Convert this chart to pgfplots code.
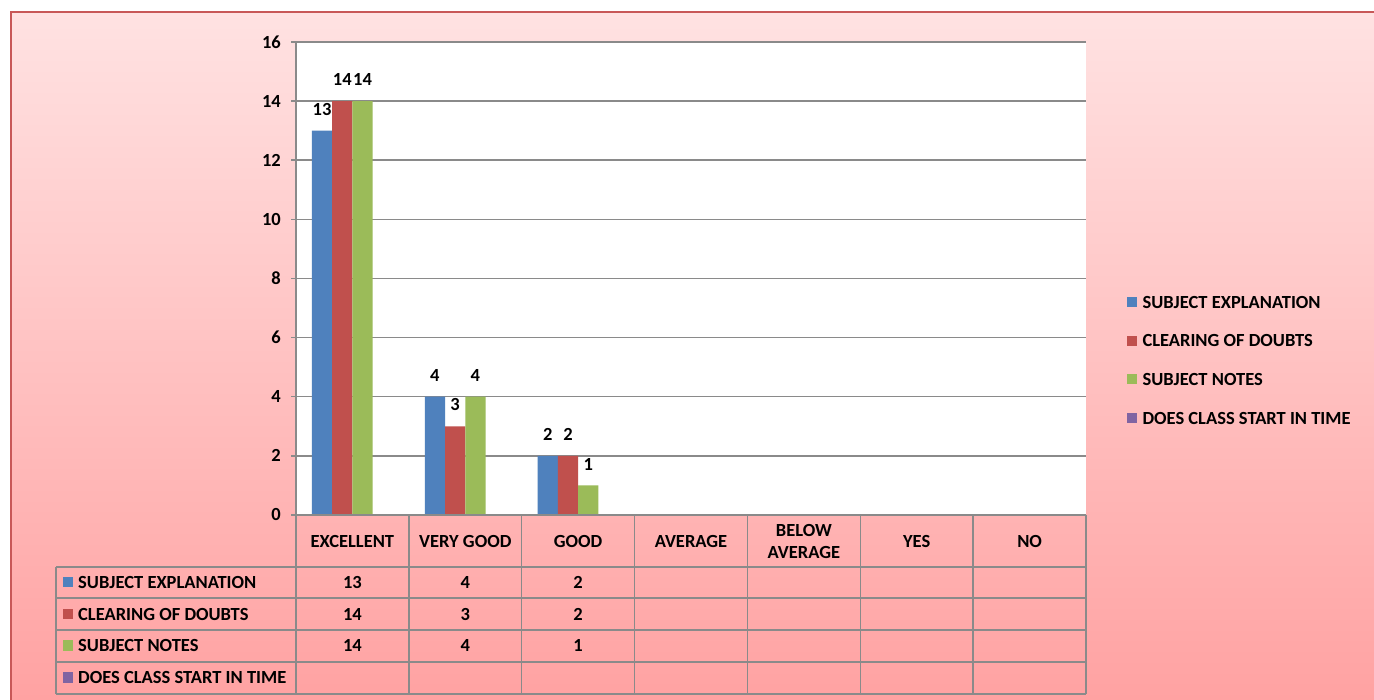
\documentclass[border=0pt]{standalone}
\usepackage{pgfplots}
\pgfplotsset{compat=1.18}
\usepackage{fontspec}
\setmainfont{Carlito}
\definecolor{c1}{HTML}{4F81BD}
\definecolor{c2}{HTML}{C0504D}
\definecolor{c3}{HTML}{9BBB59}
\definecolor{c4}{HTML}{8064A2}
\definecolor{gridc}{HTML}{8A8A8A}
\definecolor{bgtop}{HTML}{FFE2E2}
\definecolor{bgbot}{HTML}{FFA2A2}
\definecolor{framec}{HTML}{C85858}
\newcommand\lbl{\bfseries\fontsize{18.5}{22}\selectfont}
\begin{document}
\begin{tikzpicture}
\useasboundingbox (0pt,0pt) rectangle (1374pt,700pt);
\fill[white] (0pt,0pt) rectangle (1374pt,700pt);
\shade[top color=bgtop, bottom color=bgbot] (11pt,0pt) rectangle (1374pt,688pt);
\draw[framec, line width=1.3pt] (11pt,0pt) -- (11pt,688pt) -- (1374pt,688pt);
\begin{axis}[
  at={(296pt,185pt)}, anchor=south west,
  scale only axis, width=790pt, height=473pt,
  xmin=-0.5, xmax=6.5, ymin=0, ymax=16,
  ytick={0,2,...,16}, xtick=\empty,
  axis x line=none, axis y line*=left,
  axis line style={gridc, line width=1.5pt},
  ymajorgrids, grid style={gridc, line width=1.5pt},
  tick align=outside, major tick length=5pt,
  tick style={gridc, line width=1.5pt},
  yticklabel style={font=\lbl, inner sep=0pt, anchor=east, xshift=-10pt},
  /pgf/number format/assume math mode=true,
  axis background/.style={fill=white},
  ybar, bar width=20.25pt,
  nodes near coords,
  every node near coord/.append style={font=\lbl, anchor=south, inner sep=0pt, yshift=15pt},
  clip=false,
]
\addplot[fill=c1, draw=none, bar shift=-30.375pt] coordinates {(0,13) (1,4) (2,2)};
\addplot[fill=c2, draw=none, bar shift=-10.125pt] coordinates {(0,14) (1,3) (2,2)};
\addplot[fill=c3, draw=none, bar shift=10.125pt] coordinates {(0,14) (1,4) (2,1)};
\end{axis}
\begin{scope}[x=1pt,y=1pt]
% data table grid
\foreach \k in {0,...,7} \draw[gridc, line width=1.5pt] ({296+112.857*\k},185) -- ({296+112.857*\k},6);
\draw[gridc, line width=1.5pt] (56,133) -- (56,6);
\foreach \yy in {133,102,70,38,6} \draw[gridc,line width=1.5pt] (56,\yy) -- (1086,\yy);
\draw[gridc, line width=1.5pt] (296,185) -- (1086,185);
% header
\node[font=\lbl, inner sep=0pt] at (352.4,158.7) {EXCELLENT};
\node[font=\lbl, inner sep=0pt] at (465.3,158.7) {VERY GOOD};
\node[font=\lbl, inner sep=0pt] at (578.1,158.7) {GOOD};
\node[font=\lbl, inner sep=0pt] at (691.0,158.7) {AVERAGE};
\node[font=\lbl, inner sep=0pt, align=center] at (803.9,158.7) {BELOW\\AVERAGE};
\node[font=\lbl, inner sep=0pt] at (916.7,158.7) {YES};
\node[font=\lbl, inner sep=0pt] at (1029.6,158.7) {NO};
% row labels
\fill[c1] (62.7,112.5) rectangle (73.2,123);
\fill[c2] (62.7,80.5) rectangle (73.2,91);
\fill[c3] (62.7,49) rectangle (73.2,59.5);
\fill[c4] (62.7,17.3) rectangle (73.2,27.8);
\node[font=\lbl, inner sep=0pt, anchor=base west] at (78,111.8) {SUBJECT EXPLANATION};
\node[font=\lbl, inner sep=0pt, anchor=base west] at (78,79.8) {CLEARING OF DOUBTS};
\node[font=\lbl, inner sep=0pt, anchor=base west] at (78,48.2) {SUBJECT NOTES};
\node[font=\lbl, inner sep=0pt, anchor=base west] at (78,16.5) {DOES CLASS START IN TIME};
% values
\node[font=\lbl, inner sep=0pt, anchor=base] at (352.4,111.8) {13};
\node[font=\lbl, inner sep=0pt, anchor=base] at (465.3,111.8) {4};
\node[font=\lbl, inner sep=0pt, anchor=base] at (578.1,111.8) {2};
\node[font=\lbl, inner sep=0pt, anchor=base] at (352.4,79.8) {14};
\node[font=\lbl, inner sep=0pt, anchor=base] at (465.3,79.8) {3};
\node[font=\lbl, inner sep=0pt, anchor=base] at (578.1,79.8) {2};
\node[font=\lbl, inner sep=0pt, anchor=base] at (352.4,48.2) {14};
\node[font=\lbl, inner sep=0pt, anchor=base] at (465.3,48.2) {4};
\node[font=\lbl, inner sep=0pt, anchor=base] at (578.1,48.2) {1};
% legend
\fill[c1] (1127.3,392.7) rectangle (1137.3,402.7);
\fill[c2] (1127.3,354.1) rectangle (1137.3,364.1);
\fill[c3] (1127.3,315.5) rectangle (1137.3,325.5);
\fill[c4] (1127.3,276.9) rectangle (1137.3,286.9);
\node[font=\lbl, inner sep=0pt, anchor=base west] at (1142.3,391.7) {SUBJECT EXPLANATION};
\node[font=\lbl, inner sep=0pt, anchor=base west] at (1142.3,353.1) {CLEARING OF DOUBTS};
\node[font=\lbl, inner sep=0pt, anchor=base west] at (1142.3,314.5) {SUBJECT NOTES};
\node[font=\lbl, inner sep=0pt, anchor=base west] at (1142.3,275.9) {DOES CLASS START IN TIME};
\end{scope}
\end{tikzpicture}
\end{document}
